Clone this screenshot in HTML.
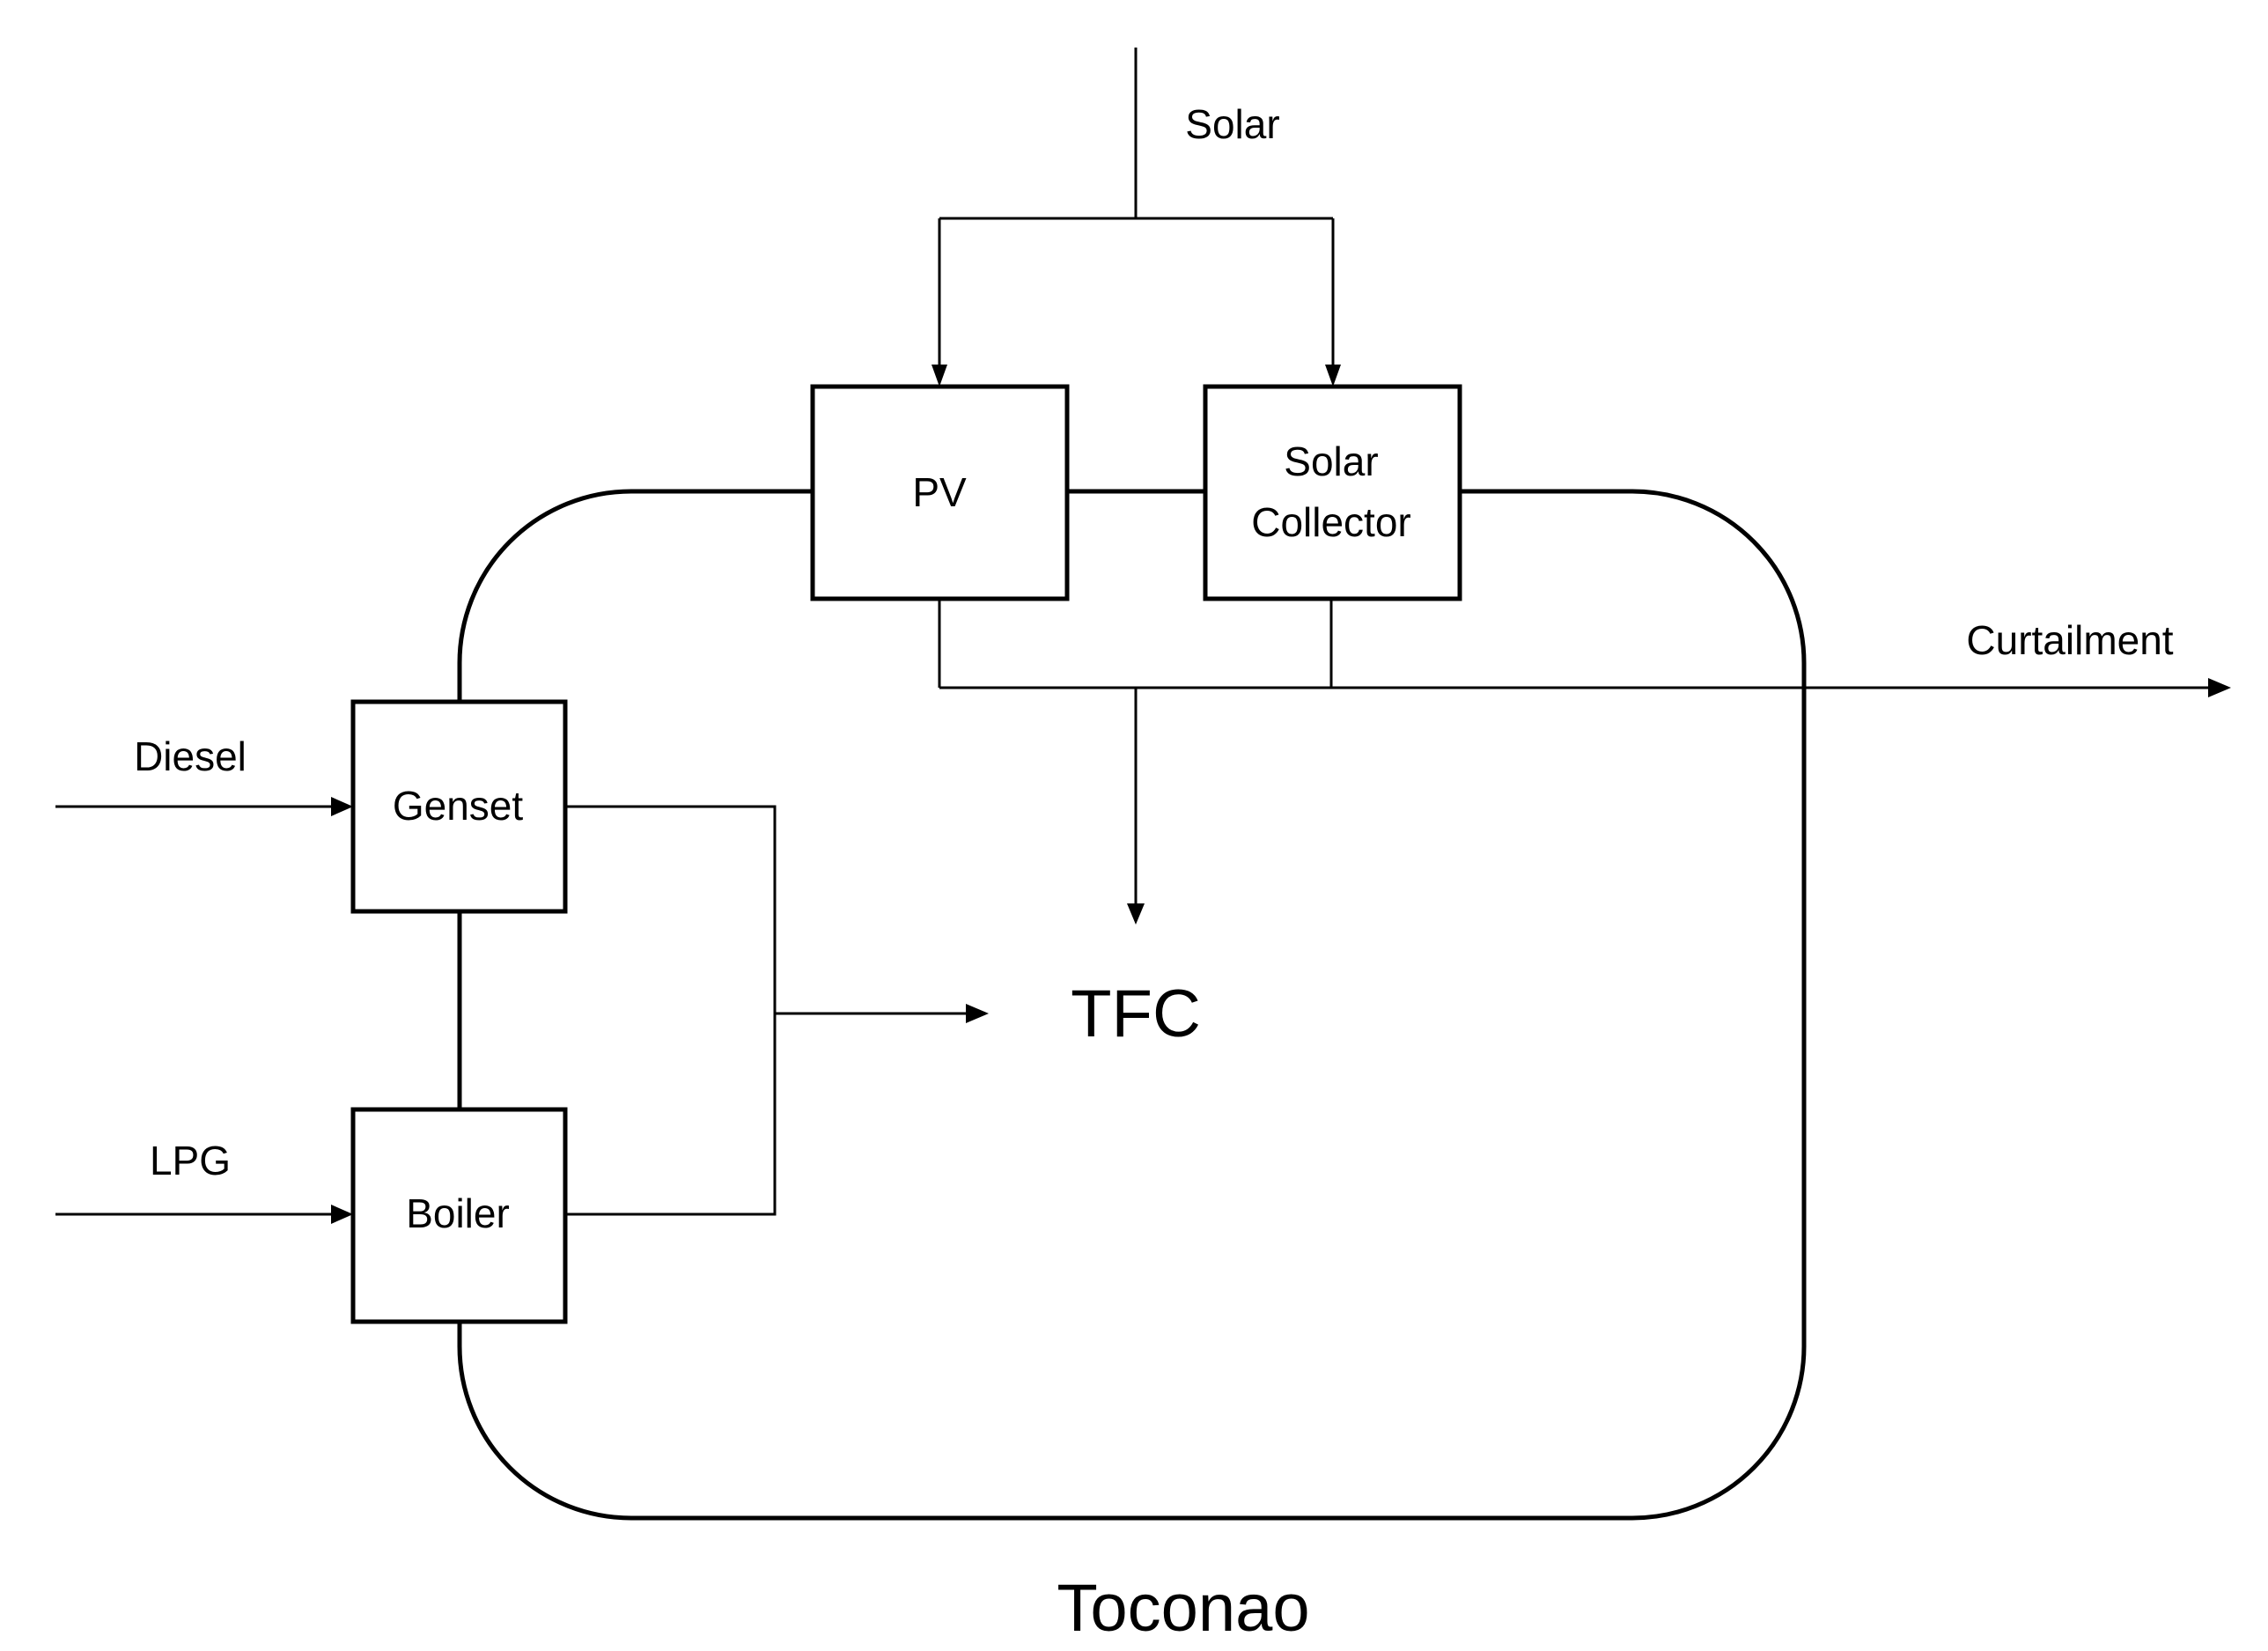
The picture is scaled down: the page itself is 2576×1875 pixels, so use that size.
<!DOCTYPE html>
<html><head><meta charset="utf-8"><style>html,body{margin:0;padding:0;background:#fff}svg{display:block}</style></head><body>
<svg width="2576" height="1875" viewBox="0 0 2576 1875" xmlns="http://www.w3.org/2000/svg" font-family="Liberation Sans, sans-serif" fill="none" stroke="#000">
<defs><marker id="a" markerWidth="10" markerHeight="10" refX="9" refY="5" orient="auto" markerUnits="userSpaceOnUse"><path d="M0,0 L0,0" /></marker></defs>
<!-- big rounded rectangle -->
<rect x="522" y="558" width="1527" height="1166" rx="195" ry="195" stroke-width="5"/>
<!-- solar feed -->
<path d="M1290 54 V248 M1067 248 H1514 M1067 248 V420 M1514 248 V420" stroke-width="3"/>
<path d="M1058 414 L1076 414 L1067 439 Z M1505 414 L1523 414 L1514 439 Z" fill="#000" stroke="none"/>
<!-- boxes -->
<g fill="#fff" stroke-width="5">
<rect x="923" y="439" width="289" height="241"/>
<rect x="1369" y="439" width="289" height="241"/>
<rect x="401" y="797" width="241" height="238"/>
<rect x="401" y="1260" width="241" height="241"/>
</g>
<!-- PV/SC outputs -->
<path d="M1067 680 V781 M1512 680 V781 M1067 781 H2510 M1290 781 V1030" stroke-width="3"/>
<path d="M2508 770 L2534 781 L2508 792 Z M1280 1026 L1300 1026 L1290 1050 Z" fill="#000" stroke="none"/>
<!-- diesel/lpg -->
<path d="M63 916 H380 M63 1379 H380" stroke-width="3"/>
<path d="M376 905 L401 916 L376 927 Z M376 1368 L401 1379 L376 1390 Z" fill="#000" stroke="none"/>
<!-- genset/boiler outputs -->
<path d="M642 916 H880 V1379 H642 M880 1151 H1100" stroke-width="3"/>
<path d="M1097 1140 L1123 1151 L1097 1162 Z" fill="#000" stroke="none"/>
<g fill="#000" stroke="none" text-anchor="middle">
<text x="1400" y="157" font-size="46">Solar</text>
<text x="2351" y="743" font-size="46">Curtailment</text>
<text x="216" y="875" font-size="46">Diesel</text>
<text x="216" y="1334" font-size="46">LPG</text>
<text x="520" y="931" font-size="46">Genset</text>
<text x="520" y="1394" font-size="46">Boiler</text>
<text x="1067" y="575" font-size="46">PV</text>
<text x="1512" y="540" font-size="46">Solar</text>
<text x="1512" y="609" font-size="46">Collector</text>
<text x="1290" y="1177" font-size="76">TFC</text>
<text x="1344" y="1852" font-size="76">Toconao</text>
</g>
</svg>
</body></html>
